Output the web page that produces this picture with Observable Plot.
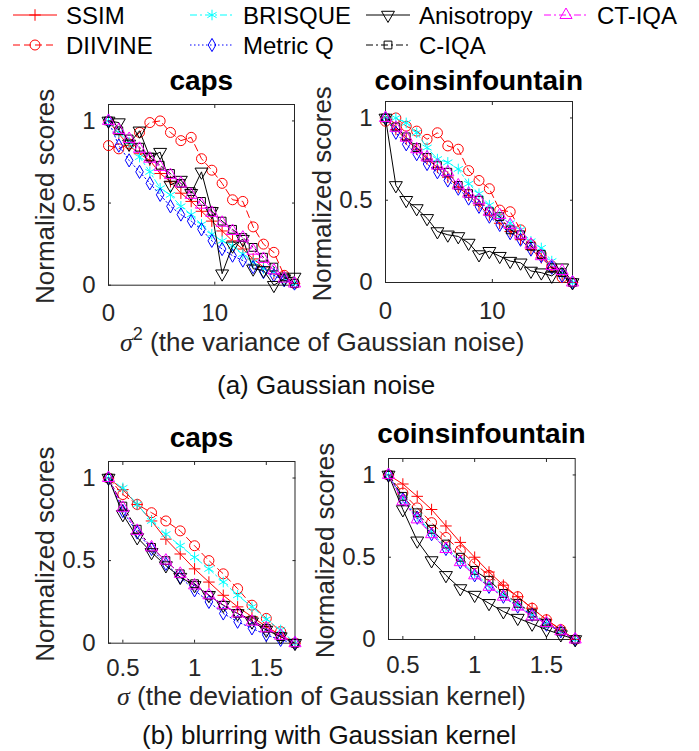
<!DOCTYPE html>
<html><head><meta charset="utf-8">
<script src="https://cdn.jsdelivr.net/npm/d3@7"></script>
<script src="https://cdn.jsdelivr.net/npm/@observablehq/plot@0.6"></script>
<style>
body{margin:0;background:#fff;}
#root{position:relative;width:699px;height:751px;overflow:hidden;background:#fff;}
.panel{position:absolute;}
</style></head><body><div id="root"></div><script>
// ---------------- data ----------------
const methods = ["SSIM","DIIVINE","BRISQUE","Metric Q","Anisotropy","C-IQA","CT-IQA"];
const noiseVariance = [0,0.97,1.94,2.92,3.89,4.86,5.83,6.81,7.78,8.75,9.72,10.69,11.67,12.64,13.61,14.58,15.56,16.53,17.5];
const blurSigma = [0.4,0.5,0.6,0.7,0.8,0.9,1.0,1.1,1.2,1.3,1.4,1.5,1.6,1.7];
const panelTitles = ["caps","coinsinfountain","caps","coinsinfountain"];
const yTicks = [0,0.5,1];
const noiseTicks = [0,10];
const blurTicks = [0.5,1,1.5];

const capsNoise = {
  "SSIM":       [1.00,0.92,0.85,0.80,0.76,0.68,0.63,0.56,0.51,0.45,0.39,0.33,0.27,0.22,0.16,0.11,0.07,0.05,0.01],
  "DIIVINE":    [0.85,0.83,0.86,0.93,0.99,1.00,0.93,0.88,0.90,0.77,0.70,0.62,0.52,0.51,0.355,0.25,0.20,0.06,0.01],
  "BRISQUE":    [1.00,0.93,0.87,0.78,0.69,0.59,0.55,0.48,0.43,0.37,0.31,0.27,0.24,0.19,0.14,0.10,0.08,0.04,0.01],
  "Metric Q":   [1.00,0.85,0.76,0.69,0.62,0.55,0.48,0.43,0.39,0.34,0.27,0.22,0.18,0.15,0.11,0.08,0.06,0.03,0.01],
  "Anisotropy": [1.00,0.99,0.86,0.94,0.78,0.81,0.61,0.64,0.56,0.69,0.45,0.07,0.24,0.28,0.10,0.09,0.00,0.04,0.05],
  "C-IQA":      [1.00,0.94,0.89,0.84,0.78,0.73,0.68,0.62,0.57,0.51,0.45,0.39,0.34,0.29,0.23,0.17,0.11,0.05,0.01],
  "CT-IQA":     [1.00,0.945,0.89,0.83,0.77,0.72,0.67,0.62,0.55,0.49,0.44,0.38,0.33,0.29,0.21,0.16,0.09,0.04,0.01]
};
const coinsNoise = {
  "SSIM":       [1.00,0.93,0.87,0.81,0.75,0.70,0.64,0.58,0.53,0.47,0.41,0.36,0.31,0.26,0.20,0.15,0.09,0.04,0.00],
  "DIIVINE":    [0.98,1.00,0.95,0.92,0.87,0.91,0.83,0.81,0.68,0.62,0.57,0.44,0.43,0.32,0.23,0.17,0.10,0.03,0.00],
  "BRISQUE":    [1.00,1.00,0.97,0.91,0.82,0.75,0.73,0.69,0.60,0.54,0.47,0.40,0.36,0.32,0.25,0.21,0.13,0.06,0.00],
  "Metric Q":   [1.00,0.91,0.84,0.78,0.72,0.67,0.62,0.57,0.51,0.46,0.40,0.35,0.30,0.26,0.20,0.16,0.09,0.04,0.00],
  "Anisotropy": [1.00,0.59,0.50,0.45,0.39,0.31,0.29,0.28,0.24,0.17,0.19,0.16,0.13,0.12,0.07,0.06,0.04,0.09,0.00],
  "C-IQA":      [1.00,0.945,0.885,0.82,0.76,0.71,0.67,0.59,0.54,0.50,0.43,0.40,0.32,0.29,0.22,0.17,0.09,0.06,0.00],
  "CT-IQA":     [1.00,0.94,0.88,0.81,0.76,0.71,0.67,0.59,0.54,0.50,0.43,0.41,0.35,0.29,0.23,0.16,0.10,0.07,0.00]
};
const capsBlur = {
  "SSIM":       [1.00,0.93,0.84,0.74,0.63,0.54,0.45,0.37,0.29,0.22,0.16,0.10,0.05,0.00],
  "DIIVINE":    [1.00,0.90,0.84,0.79,0.74,0.68,0.59,0.50,0.42,0.33,0.23,0.15,0.07,0.00],
  "BRISQUE":    [1.00,0.94,0.84,0.74,0.66,0.59,0.52,0.45,0.37,0.29,0.22,0.145,0.08,0.00],
  "Metric Q":   [1.00,0.80,0.67,0.57,0.48,0.40,0.32,0.25,0.18,0.13,0.09,0.05,0.02,0.00],
  "Anisotropy": [1.00,0.78,0.64,0.55,0.47,0.40,0.35,0.29,0.23,0.18,0.13,0.08,0.04,0.00],
  "C-IQA":      [1.00,0.83,0.69,0.58,0.50,0.42,0.36,0.29,0.23,0.18,0.14,0.09,0.04,0.00],
  "CT-IQA":     [1.00,0.82,0.68,0.58,0.50,0.42,0.35,0.29,0.23,0.18,0.13,0.09,0.045,0.00]
};
const coinsBlur = {
  "SSIM":       [1.00,0.945,0.87,0.79,0.69,0.59,0.50,0.41,0.33,0.26,0.19,0.12,0.06,0.00],
  "DIIVINE":    [1.00,0.89,0.80,0.71,0.62,0.54,0.46,0.39,0.32,0.26,0.19,0.12,0.06,0.00],
  "BRISQUE":    [1.00,0.86,0.75,0.65,0.56,0.48,0.40,0.33,0.27,0.21,0.15,0.10,0.05,0.00],
  "Metric Q":   [1.00,0.85,0.74,0.64,0.55,0.47,0.39,0.32,0.26,0.20,0.15,0.09,0.05,0.00],
  "Anisotropy": [1.00,0.79,0.60,0.48,0.39,0.31,0.27,0.22,0.17,0.13,0.095,0.06,0.03,0.00],
  "C-IQA":      [1.00,0.87,0.77,0.67,0.58,0.50,0.42,0.36,0.28,0.22,0.16,0.10,0.05,0.00],
  "CT-IQA":     [1.00,0.84,0.73,0.64,0.55,0.47,0.39,0.32,0.26,0.20,0.14,0.10,0.05,0.00]
};

// ---------------- styles ----------------
const FONT = '"Liberation Sans", Arial, Helvetica, sans-serif';
const AXC = "#262626";
const sty = {
  "SSIM":       {color:"#ff0000", dash:null,      symbol:"plus",     r:3.8, rotate:0},
  "DIIVINE":    {color:"#ff0000", dash:"7,4",     symbol:"circle",   r:5.0, rotate:0},
  "BRISQUE":    {color:"#00ffff", dash:"7,3,2,3", symbol:"asterisk", r:5.0, rotate:0},
  "Metric Q":   {color:"#0000ff", dash:"1.5,2.5", symbol:"diamond",  r:4.0, rotate:0},
  "Anisotropy": {color:"#000000", dash:null,      symbol:"triangle", r:4.8, rotate:180},
  "C-IQA":      {color:"#000000", dash:"7,3,2,3", symbol:"square",   r:4.4, rotate:0},
  "CT-IQA":     {color:"#ff00ff", dash:"7,3,2,3", symbol:"triangle", r:4.5, rotate:0}
};

const layout = [
  {data:capsNoise,  xs:noiseVariance, xDomain:[0,17.5],  xTicks:noiseTicks, left:108.3, top:104,   w:186,   h:180.7, pad:22},
  {data:coinsNoise, xs:noiseVariance, xDomain:[0,17.5],  xTicks:noiseTicks, left:385.3, top:101.3, w:187,   h:181,   pad:22},
  {data:capsBlur,   xs:blurSigma,     xDomain:[0.4,1.7], xTicks:blurTicks,  left:108.3, top:461.3, w:186.5, h:181.7, pad:19},
  {data:coinsBlur,  xs:blurSigma,     xDomain:[0.4,1.7], xTicks:blurTicks,  left:388,   top:458,   w:186.7, h:181,   pad:19}
];

const root = document.getElementById("root");
const ML = 70, MR = 20, MT = 20, MB = 50;

layout.forEach((p) => {
  const marks = [
    Plot.frame({stroke: AXC, strokeWidth: 1}),
    Plot.axisX({anchor:"bottom", ticks:p.xTicks, tickSize:-3, tickPadding:p.pad, tickFormat:d=>String(d), label:null, fontSize:24, color:AXC}),
    Plot.axisX({anchor:"top", ticks:p.xTicks, tickSize:-3, tickFormat:()=>"", label:null, color:AXC}),
    Plot.axisY({anchor:"left", ticks:yTicks, tickSize:-3, tickPadding:16, tickFormat:d=>String(d), label:null, fontSize:24, color:AXC}),
    Plot.axisY({anchor:"right", ticks:yTicks, tickSize:-3, tickFormat:()=>"", label:null, color:AXC})
  ];
  for (const m of methods) {
    const s = sty[m];
    const rows = p.data[m].map((v, i) => ({x: p.xs[i], y: v}));
    marks.push(Plot.line(rows, {x:"x", y:"y", stroke:s.color, strokeWidth:1, strokeDasharray:s.dash}));
    marks.push(Plot.dot(rows, {x:"x", y:"y", stroke:s.color, fill:"none", strokeWidth:1, symbol:s.symbol, r:s.r, rotate:s.rotate}));
  }
  const chart = Plot.plot({
    width: ML + p.w + MR, height: MT + p.h + MB,
    marginLeft: ML, marginRight: MR, marginTop: MT, marginBottom: MB,
    x: {domain: p.xDomain}, y: {domain: [0, 1.1]},
    style: {fontFamily: FONT, background: "transparent", overflow: "visible", color: AXC},
    marks
  });
  const div = document.createElement("div");
  div.className = "panel";
  div.style.left = (p.left - ML) + "px";
  div.style.top = (p.top - MT) + "px";
  div.appendChild(chart);
  root.appendChild(div);
});

// ---------------- text overlay & legend ----------------
const svg = d3.create("svg").attr("width", 699).attr("height", 751)
  .style("position","absolute").style("left","0px").style("top","0px")
  .style("font-family", FONT).style("overflow","visible");

const titleY = [90, 90, 447, 443];
layout.forEach((p, i) => {
  svg.append("text").attr("x", p.left + p.w/2).attr("y", titleY[i])
    .attr("text-anchor","middle").attr("font-size",28).attr("font-weight","bold").attr("fill","#000")
    .text(panelTitles[i]);
  svg.append("text")
    .attr("transform", `translate(${p.left - 54},${p.top + p.h/2 + 2}) rotate(-90)`)
    .attr("text-anchor","middle").attr("font-size",26).attr("fill",AXC)
    .text("Normalized scores");
});

const xl1 = svg.append("text").attr("x",120).attr("y",351).attr("font-size",26).attr("fill",AXC);
xl1.append("tspan").attr("font-family",'"Liberation Serif", serif').attr("font-style","italic").text("σ");
xl1.append("tspan").attr("font-size",18).attr("dy",-11).text("2");
xl1.append("tspan").attr("dy",11).text(" (the variance of Gaussian noise)");
const xl2 = svg.append("text").attr("x",117).attr("y",705).attr("font-size",26).attr("fill",AXC);
xl2.append("tspan").attr("font-family",'"Liberation Serif", serif').attr("font-style","italic").text("σ");
xl2.append("tspan").text(" (the deviation of Gaussian kernel)");

svg.append("text").attr("x",217).attr("y",394).attr("font-size",26).attr("fill","#111").text("(a) Gaussian noise");
svg.append("text").attr("x",142).attr("y",744).attr("font-size",26).attr("fill","#111").text("(b) blurring with Gaussian kernel");

// legend
const symMap = {plus:d3.symbolPlus, circle:d3.symbolCircle, asterisk:d3.symbolAsterisk, diamond:d3.symbolDiamond, triangle:d3.symbolTriangle, square:d3.symbolSquare};
const legCols = [13, 190, 366, 544];
const legRows = [15, 45];
const legPos = {"SSIM":[0,0],"DIIVINE":[0,1],"BRISQUE":[1,0],"Metric Q":[1,1],"Anisotropy":[2,0],"C-IQA":[2,1],"CT-IQA":[3,0]};
for (const m of methods) {
  const s = sty[m];
  const [c, r] = legPos[m];
  const x0 = legCols[c], y0 = legRows[r];
  const g = svg.append("g");
  g.append("line").attr("x1", x0).attr("x2", x0 + 44).attr("y1", y0).attr("y2", y0)
    .attr("stroke", s.color).attr("stroke-width", 1).attr("stroke-dasharray", s.dash);
  g.append("path").attr("d", d3.symbol(symMap[s.symbol], Math.PI * s.r * s.r)())
    .attr("transform", `translate(${x0 + 22},${y0}) rotate(${s.rotate})`)
    .attr("fill", "none").attr("stroke", s.color).attr("stroke-width", 1);
  g.append("text").attr("x", x0 + 53).attr("y", y0 + 8.5).attr("font-size", 24).attr("fill", "#000").text(m);
}

root.appendChild(svg.node());
</script></body></html>
